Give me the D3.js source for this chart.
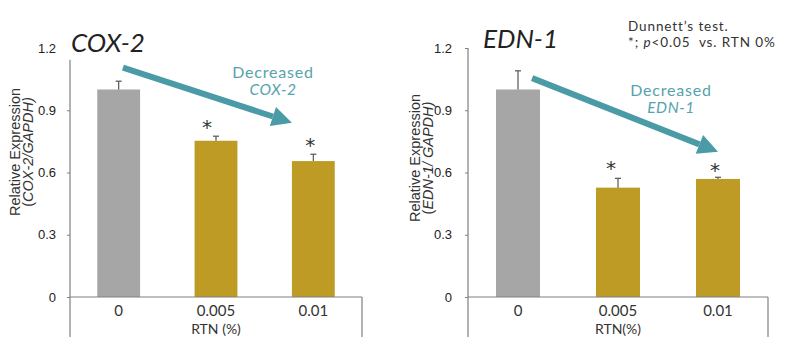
<!DOCTYPE html>
<html><head><meta charset="utf-8">
<script src="https://cdn.jsdelivr.net/npm/d3@7"></script>
<style>body{margin:0;background:#fff}svg{display:block}</style>
</head><body><svg id="c" width="800" height="356"></svg>
<script>
const categories = ["0", "0.005", "0.01"];
const yTicks = [0, 0.3, 0.6, 0.9, 1.2];
const cox2Mean = [1.00, 0.753, 0.655];
const cox2Err  = [0.04, 0.022, 0.033];
const edn1Mean = [1.00, 0.527, 0.569];
const edn1Err  = [0.09, 0.045, 0.008];
const significant = [false, true, true];
const barColors = ["#a6a6a6", "#bd9b24", "#bd9b24"];

const svg = d3.select("#c");
const TEAL = "#4b9ba6", TEAL_TXT = "#55a3ac";

function panel(o) {
  const g = svg.append("g");
  const x = d3.scaleBand().domain(categories).range([o.x0, o.x1]).paddingInner(0.56).paddingOuter(0.28);
  const y = d3.scaleLinear().domain([0, 1.2]).range([297, 48]);
  const data = categories.map((c, i) => ({c, m: o.mean[i], e: o.err[i], s: significant[i], col: barColors[i]}));

  // y axis
  const ax = g.append("g").attr("transform", `translate(${o.x0},0)`)
    .call(d3.axisLeft(y).tickValues(yTicks).tickFormat(d => d === 0 ? "0" : d3.format(".1f")(d)).tickSize(3).tickPadding(o.tpad));
  ax.select(".domain").remove();
  ax.selectAll(".tick line").attr("stroke", "#808080");
  if (!o.topTick) ax.selectAll(".tick line").filter(d => d === 1.2).remove();
  ax.selectAll("text").attr("font-family", "Liberation Sans, Arial, sans-serif").attr("font-size", 13).attr("fill", "#222");
  g.append("line").attr("x1", o.x0).attr("x2", o.x0).attr("y1", y(o.axisTop)).attr("y2", 337).attr("stroke", "#808080").attr("stroke-width", 1.2);
  g.append("line").attr("x1", o.x1).attr("x2", o.x1).attr("y1", y(0)).attr("y2", 337).attr("stroke", "#808080").attr("stroke-width", 1.2);

  // bars
  g.selectAll("rect.bar").data(data).join("rect").attr("class", "bar")
    .attr("x", d => x(d.c)).attr("width", x.bandwidth())
    .attr("y", d => y(d.m)).attr("height", d => y(0) - y(d.m)).attr("fill", d => d.col);
  // error bars
  const eb = g.selectAll("g.err").data(data).join("g").attr("class", "err");
  eb.append("line").attr("x1", d => x(d.c) + x.bandwidth() / 2).attr("x2", d => x(d.c) + x.bandwidth() / 2)
    .attr("y1", d => y(d.m)).attr("y2", d => y(d.m + d.e)).attr("stroke", "#555").attr("stroke-width", 1.2);
  eb.append("line").attr("x1", d => x(d.c) + x.bandwidth() / 2 - 3).attr("x2", d => x(d.c) + x.bandwidth() / 2 + 3)
    .attr("y1", d => y(d.m + d.e)).attr("y2", d => y(d.m + d.e)).attr("stroke", "#555").attr("stroke-width", 1.2);
  // asterisks
  g.selectAll("text.star").data(data.filter(d => d.s)).join("text").attr("class", "star")
    .attr("x", (d, i) => x(d.c) + x.bandwidth() / 2 + o.starDx[i])
    .attr("y", (d, i) => y(d.m + d.e) - o.starDy[i] + 12)
    .attr("text-anchor", "middle").attr("font-family", "DejaVu Sans, sans-serif").attr("font-size", 20).attr("fill", "#333").text("*");

  // x axis baseline
  g.append("line").attr("x1", o.x0).attr("x2", o.x1).attr("y1", y(0)).attr("y2", y(0)).attr("stroke", "#808080").attr("stroke-width", 1.2);
  g.selectAll("text.cat").data(categories).join("text").attr("class", "cat")
    .attr("x", d => x(d) + x.bandwidth() / 2).attr("y", 316).attr("text-anchor", "middle")
    .attr("font-family", "Lato, sans-serif").attr("font-size", 15).attr("fill", "#333").text(d => d);
  g.append("text").attr("x", x(categories[1]) + x.bandwidth() / 2).attr("y", 334).attr("text-anchor", "middle")
    .attr("font-family", "Lato, sans-serif").attr("font-size", 14).attr("fill", "#333").text(o.xTitle);

  // y title
  const yt = g.append("text").attr("transform", `translate(${o.ylx},${o.yly}) rotate(-90)`).attr("text-anchor", "middle")
    .attr("font-family", "Liberation Sans, Arial, sans-serif").attr("font-size", 14.5).attr("fill", "#333");
  yt.append("tspan").attr("x", 0).attr("dy", 0).text("Relative Expression");
  yt.append("tspan").attr("x", 0).attr("dy", 13).text("(");
  yt.append("tspan").attr("font-style", "italic").text(o.gene + "/" + o.ySep);
  yt.append("tspan").attr("font-style", "italic").text("GAPDH)");

  // title
  g.append("text").attr("x", o.titleX).attr("y", o.titleY).attr("font-family", "Lato, sans-serif").attr("font-style", "italic")
    .attr("font-size", 26).attr("fill", "#222").text(o.gene);

  // arrow
  const a = o.arrow;
  const sx = x(categories[0]) + x.bandwidth() * a[0], sy = y(a[1]);
  const ex = x(categories[2]) + x.bandwidth() * a[2], ey = y(a[3]);
  const ang = Math.atan2(ey - sy, ex - sx), L = 20, W = 10;
  const bx = ex - L * Math.cos(ang), by = ey - L * Math.sin(ang);
  g.append("line").attr("x1", sx).attr("y1", sy).attr("x2", bx).attr("y2", by).attr("stroke", TEAL).attr("stroke-width", 6);
  g.append("path").attr("d", `M${ex},${ey}L${bx + W * Math.sin(ang)},${by - W * Math.cos(ang)}L${bx - W * Math.sin(ang)},${by + W * Math.cos(ang)}Z`).attr("fill", TEAL);
  g.append("text").attr("x", o.decX).attr("y", o.decY).attr("text-anchor", "middle").attr("font-family", "Lato, sans-serif")
    .attr("font-size", 16).attr("letter-spacing", 0.8).attr("fill", TEAL_TXT).text("Decreased");
  g.append("text").attr("x", o.decX).attr("y", o.decY + 17).attr("text-anchor", "middle").attr("font-family", "Lato, sans-serif")
    .attr("font-style", "italic").attr("font-size", 15.5).attr("letter-spacing", 0.6).attr("fill", TEAL_TXT).text(o.gene);
}

panel({x0: 70, x1: 362, mean: cox2Mean, err: cox2Err, gene: "COX-2", ySep: "", xTitle: "RTN (%)",
  axisTop: 1.143, topTick: false, tpad: 11, ylx: 20, yly: 152, titleX: 71, titleY: 52,
  starDx: [-9, -3], starDy: [14, 14], arrow: [0.6, 1.105, 0.0, 0.84], decX: 273, decY: 78});
panel({x0: 468, x1: 768, mean: edn1Mean, err: edn1Err, gene: "EDN-1", ySep: " ", xTitle: "RTN(%)",
  axisTop: 1.2, topTick: true, tpad: 13, ylx: 420, yly: 158, titleX: 483, titleY: 48,
  starDx: [-7, -3], starDy: [15, 12], arrow: [0.82, 1.055, 0.5, 0.70], decX: 671, decY: 96});

const note = svg.append("g").attr("font-family", "Lato, sans-serif").attr("font-size", 13.5).attr("letter-spacing", 0.9).attr("fill", "#333");
note.append("text").attr("x", 628).attr("y", 31).text("Dunnett’s test.");
const n2 = note.append("text").attr("x", 628).attr("y", 47).attr("xml:space", "preserve");
n2.append("tspan").text("*; ");
n2.append("tspan").attr("font-style", "italic").text("p");
n2.append("tspan").text("<0.05  vs. RTN 0%");
</script></body></html>
